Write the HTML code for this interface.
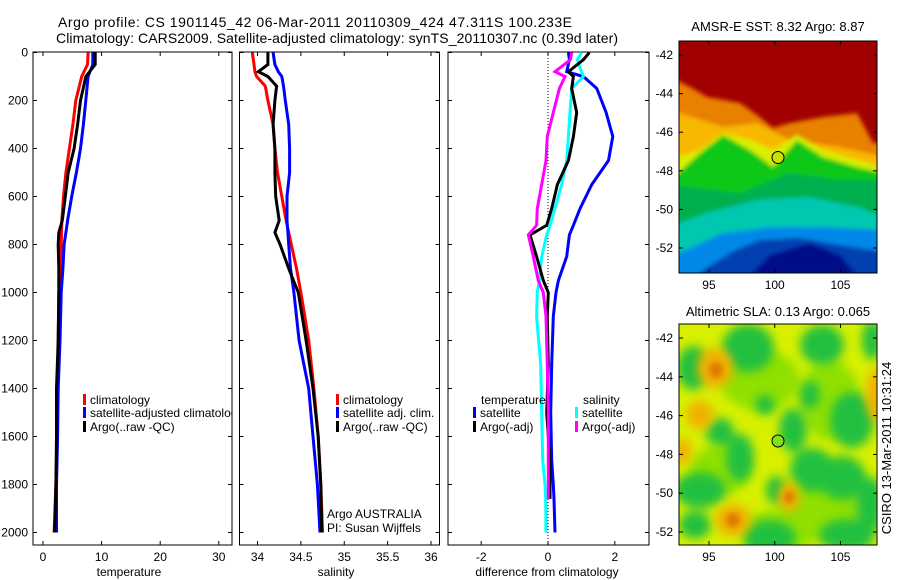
<!DOCTYPE html>
<html><head><meta charset="utf-8"><style>
html,body{margin:0;padding:0;background:#fff;}
svg{display:block;font-family:"Liberation Sans",sans-serif;}
</style></head><body>
<svg id="chart" width="900" height="580" viewBox="0 0 900 580" xmlns="http://www.w3.org/2000/svg">
<defs>
<filter id="blur2"><feGaussianBlur stdDeviation="2"/></filter>
<filter id="blur3"><feGaussianBlur stdDeviation="3"/></filter>
<filter id="blur5"><feGaussianBlur stdDeviation="5"/></filter>
<clipPath id="clipTop"><rect x="679" y="41" width="198" height="232"/></clipPath>
<clipPath id="clipBot"><rect x="679" y="324" width="198" height="221"/></clipPath>
<clipPath id="clipP1"><rect x="33" y="52" width="199" height="493"/></clipPath>
</defs>
<text x="58" y="27" font-size="14" textLength="514">Argo profile: CS 1901145_42 06-Mar-2011 20110309_424 47.311S 100.233E</text>
<text x="56" y="43" font-size="14" textLength="562">Climatology: CARS2009. Satellite-adjusted climatology: synTS_20110307.nc (0.39d later)</text>

<g clip-path="url(#clipTop)">
<rect x="679" y="41" width="198" height="232" fill="#a00000"/>
<g filter="url(#blur2)">
<polygon fill="#e88000" points="670,77 690,87 707,97 740,103 757,115 773,128 790,123 823,117 857,113 873,143 885,143 885,290 670,290"/>
<polygon fill="#f8b800" points="670,110 723,127 757,123 790,140 840,147 885,157 885,290 670,290"/>
<polygon fill="#d8f000" points="670,160 700,150 723,133 750,140 773,150 797,135 823,150 857,160 885,168 885,290 670,290"/>
<polygon fill="#10c818" points="670,180 700,153 723,135 750,150 773,167 797,140 823,157 857,167 885,173 885,290 670,290"/>
<polygon fill="#00b050" points="670,185 740,193 790,173 840,180 885,180 885,290 670,290"/>
<polygon fill="#00c8b0" points="670,227 707,213 757,200 807,197 857,207 885,217 885,290 670,290"/>
<polygon fill="#0088e8" points="670,257 723,233 773,227 823,227 885,230 885,290 670,290"/>
<polygon fill="#0040b0" points="700,272 735,250 760,240 800,238 840,245 885,252 885,290 700,290"/>
<polygon fill="#000888" points="750,275 770,255 810,243 840,255 857,275"/>
</g>
</g>
<rect x="679" y="41" width="198" height="232" fill="none" stroke="#000" stroke-width="1"/>
<circle cx="778" cy="157.5" r="6" fill="#c8e000" stroke="#000" stroke-width="1"/>
<text x="778" y="31" font-size="13" text-anchor="middle">AMSR-E SST: 8.32 Argo: 8.87</text>

<g clip-path="url(#clipBot)">
<rect x="679" y="324" width="198" height="221" fill="#d8f000"/>
<g filter="url(#blur5)" fill="#90e000">
<ellipse cx="760" cy="380" rx="40" ry="30"/>
<ellipse cx="720" cy="470" rx="30" ry="25"/>
<ellipse cx="830" cy="400" rx="30" ry="40"/>
<ellipse cx="820" cy="510" rx="40" ry="30"/>
<ellipse cx="780" cy="530" rx="40" ry="20"/>
</g>
<g filter="url(#blur5)" fill="#20c040">
<ellipse cx="748" cy="348" rx="26" ry="24"/>
<ellipse cx="693" cy="368" rx="16" ry="22"/>
<ellipse cx="822" cy="345" rx="22" ry="20"/>
<ellipse cx="872" cy="340" rx="10" ry="20"/>
<ellipse cx="720" cy="432" rx="14" ry="14"/>
<ellipse cx="740" cy="458" rx="14" ry="24"/>
<ellipse cx="793" cy="430" rx="14" ry="22"/>
<ellipse cx="812" cy="470" rx="22" ry="22"/>
<ellipse cx="852" cy="420" rx="22" ry="28"/>
<ellipse cx="842" cy="478" rx="24" ry="22"/>
<ellipse cx="700" cy="490" rx="26" ry="18"/>
<ellipse cx="695" cy="525" rx="16" ry="14"/>
<ellipse cx="770" cy="538" rx="26" ry="18"/>
<ellipse cx="847" cy="535" rx="28" ry="16"/>
<ellipse cx="765" cy="405" rx="10" ry="10"/>
<ellipse cx="870" cy="505" rx="14" ry="28"/>
<ellipse cx="776" cy="490" rx="10" ry="14"/>
<ellipse cx="810" cy="395" rx="10" ry="14"/>
</g>
<g filter="url(#blur5)" fill="#f0b000">
<ellipse cx="715" cy="368" rx="18" ry="20"/>
<ellipse cx="700" cy="415" rx="14" ry="14"/>
<ellipse cx="733" cy="520" rx="18" ry="16"/>
<ellipse cx="789" cy="497" rx="11" ry="15"/>
<ellipse cx="876" cy="395" rx="10" ry="26"/>
<ellipse cx="683" cy="452" rx="8" ry="14"/>
</g>
<g filter="url(#blur3)" fill="#e07800">
<ellipse cx="716" cy="370" rx="7" ry="8"/>
<ellipse cx="733" cy="520" rx="7" ry="7"/>
<ellipse cx="789" cy="497" rx="5" ry="6"/>
</g>
</g>
<rect x="679" y="324" width="198" height="221" fill="none" stroke="#000" stroke-width="1"/>
<circle cx="778" cy="441" r="6" fill="#80e020" stroke="#000" stroke-width="1"/>
<text x="778" y="316" font-size="13" text-anchor="middle">Altimetric SLA: 0.13 Argo: 0.065</text>
<text x="0" y="0" font-size="13" text-anchor="middle" transform="translate(891,448) rotate(-90)">CSIRO 13-Mar-2011 10:31:24</text>
</svg>
<script>
// ---- data ----
const pressures = [0,50,100,200,300,400,500,600,700,750,800,900,1000,1200,1400,1600,1800,2000];
const tempClim = [7.7,7.6,6.6,5.6,5.1,4.5,3.9,3.5,3.2,3.15,3.1,2.9,2.7,2.6,2.5,2.4,2.2,1.9];
const tempSat  = [8.5,8.5,7.7,7.3,6.9,6.4,5.7,4.9,4.2,3.9,3.6,3.4,3.1,2.9,2.6,2.5,2.3,2.3];
const tempArgo = [8.9,8.9,7.3,6.4,5.9,5.3,4.3,3.8,3.3,2.7,2.6,2.7,2.7,2.6,2.3,2.3,2.2,2.0];

const salPressures = [0,50,80,100,140,200,300,400,500,600,700,750,800,900,1000,1200,1400,1600,1800,2000];
const salClim = [33.94,33.96,33.97,33.99,34.09,34.12,34.18,34.20,34.23,34.28,34.33,34.36,34.39,34.45,34.50,34.59,34.65,34.70,34.73,34.75];
const salSat  = [34.18,34.20,34.24,34.28,34.30,34.32,34.36,34.37,34.37,34.34,34.34,34.35,34.36,34.38,34.42,34.48,34.59,34.64,34.69,34.72];
const salArgo = [34.12,34.12,34.01,34.12,34.22,34.20,34.18,34.20,34.20,34.21,34.25,34.20,34.26,34.36,34.47,34.56,34.64,34.70,34.73,34.74];

const diffPressures = [0,30,80,100,150,250,350,450,550,650,720,760,850,950,1000,1100,1300,1500,1700,1800,1860,2000];
const diffTempSat  = [0.61,0.64,0.56,1.06,1.46,1.74,1.94,1.81,1.31,0.96,0.76,0.64,0.56,0.31,0.24,0.16,0.11,0.08,0.11,0.16,0.18,0.21];
const diffTempArgo = [1.24,1.06,0.61,0.76,0.71,0.86,0.76,0.61,0.28,0.11,-0.04,-0.54,-0.34,-0.14,0.01,-0.02,0.01,-0.04,0.06,0.06,0.06,null];
const diffSalSat   = [1.0,0.88,1.0,1.06,0.71,0.66,0.61,0.56,0.41,0.21,0.06,-0.04,-0.19,-0.26,-0.32,-0.34,-0.22,-0.19,-0.16,-0.09,-0.07,-0.06];
const diffSalArgo  = [0.71,0.67,0.21,0.51,0.34,0.16,-0.02,-0.06,-0.19,-0.32,-0.34,-0.59,-0.44,-0.29,-0.14,-0.06,-0.02,0.01,0.01,0.01,0.01,null];

const pTicks = [0,200,400,600,800,1000,1200,1400,1600,1800,2000];
const tTicks = [0,10,20,30];
const sTicks = [34,34.5,35,35.5,36];
const sTickLabels = ["34","34.5","35","35.5","36"];
const dTicks = [-2,0,2];
const lonTicks = [95,100,105];
const latTicks = [-42,-44,-46,-48,-50,-52];

// ---- scales ----
const yP = p => 52.5 + p*0.24;
const xT = t => 43 + t*5.86;
const xS = s => 257.5 + (s-34)*86.75;
const xD = d => 548 + d*33.4;
const xLon = lon => 679 + (lon-92.72)*13.15;
const yLatTop = lat => 55 + (-42-lat)*19.3;
const yLatBot = lat => 338 + (-42-lat)*19.4;

const NS = "http://www.w3.org/2000/svg";
const svg = document.getElementById('chart');
function mk(tag, attrs, parent){
  const e = document.createElementNS(NS, tag);
  for (const k in attrs) e.setAttribute(k, attrs[k]);
  (parent||svg).appendChild(e);
  return e;
}
function txt(str, x, y, size, anchor, name){
  const e = mk('text', {x:x, y:y, 'font-size':size, 'text-anchor':anchor||'start'});
  e.textContent = str;
  
  
  return e;
}
function line(xs, ps, xf, color, name, clip){
  let pts = [];
  for (let i=0;i<xs.length;i++){ if (xs[i]===null) continue; pts.push(xf(xs[i]).toFixed(1)+','+yP(ps[i]).toFixed(1)); }
  const e = mk('polyline', {points:pts.join(' '), fill:'none', stroke:color, 'stroke-width':3, 'stroke-linejoin':'miter'});
  if (clip) e.setAttribute('clip-path', clip);
  
  
}
function panel(x0, x1, name){
  const r = mk('rect', {x:x0, y:52, width:x1-x0, height:493, fill:'none', stroke:'#000', 'stroke-width':1});
  
  
  for (const p of pTicks){
    const y = yP(p);
    mk('line', {x1:x0, x2:x0+4, y1:y, y2:y, stroke:'#000'});
    mk('line', {x1:x1-4, x2:x1, y1:y, y2:y, stroke:'#000'});
  }
}
function xticks(vals, labels, xf, x0, x1, name){
  vals.forEach((v,i)=>{
    const x = xf(v);
    mk('line', {x1:x, x2:x, y1:52, y2:56, stroke:'#000'});
    mk('line', {x1:x, x2:x, y1:541, y2:545, stroke:'#000'});
    txt(labels[i], x, 561, 12, 'middle', name);
  });
}

// panel 1: temperature
panel(33, 232, 'temperature-panel');
pTicks.forEach(p => txt(String(p), 28, yP(p)+4, 12, 'end', 'pressure-tick-label'));
xticks(tTicks, tTicks.map(String), xT, 33, 232, 'temperature-tick-label');
txt('temperature', 129, 576, 12, 'middle', 'x-axis-title-temperature');
line(tempClim, pressures, xT, '#f00', 'temperature-climatology-line', 'url(#clipP1)');
line(tempSat, pressures, xT, '#00f', 'temperature-satellite-line', 'url(#clipP1)');
line(tempArgo, pressures, xT, '#000', 'temperature-argo-line', 'url(#clipP1)');

// panel 2: salinity
panel(239.5, 439.5, 'salinity-panel');
xticks(sTicks, sTickLabels, xS, 239.5, 439.5, 'salinity-tick-label');
txt('salinity', 336, 576, 12, 'middle', 'x-axis-title-salinity');
line(salClim, salPressures, xS, '#f00', 'salinity-climatology-line');
line(salSat, salPressures, xS, '#00f', 'salinity-satellite-line');
line(salArgo, salPressures, xS, '#000', 'salinity-argo-line');

// panel 3: difference
panel(448, 649, 'difference-panel');
xticks(dTicks, dTicks.map(String), xD, 448, 649, 'difference-tick-label');
txt('difference from climatology', 547, 576, 12, 'middle', 'x-axis-title-difference');
const zl = mk('line', {x1:xD(0), x2:xD(0), y1:52, y2:545, stroke:'#000', 'stroke-dasharray':'1,2'});


line(diffTempSat, diffPressures, xD, '#0000ff', 'diff-temperature-satellite-line');
line(diffSalSat, diffPressures, xD, '#00ffff', 'diff-salinity-satellite-line');
line(diffTempArgo, diffPressures, xD, '#000', 'diff-temperature-argo-line');
line(diffSalArgo, diffPressures, xD, '#ff00ff', 'diff-salinity-argo-line');

// legends
function legendEntry(mx, y, color, label, name, clipW){
  const g = mk('g', {});
  
  
  mk('rect', {x:mx, y:y-10, width:3, height:11, fill:color}, g);
  const t = mk('text', {x:mx+7, y:y, 'font-size':12}, g);
  t.textContent = label;
  if (clipW) t.setAttribute('clip-path', 'url(#clipP1)');
}
legendEntry(83, 404, '#f00', 'climatology', 'legend-entry-climatology');
legendEntry(83, 417, '#00f', 'satellite-adjusted climatology', 'legend-entry-satellite-adjusted', true);
legendEntry(83, 431, '#000', 'Argo(..raw -QC)', 'legend-entry-argo');
legendEntry(336, 404, '#f00', 'climatology', 'legend-entry-sal-climatology');
legendEntry(336, 417, '#00f', 'satellite adj. clim.', 'legend-entry-sal-satellite');
legendEntry(336, 431, '#000', 'Argo(..raw -QC)', 'legend-entry-sal-argo');
txt('temperature', 481, 404, 12, 'start', 'legend-title-temperature');
txt('salinity', 583, 404, 12, 'start', 'legend-title-salinity');
legendEntry(473, 417, '#00f', 'satellite', 'legend-entry-diff-temp-satellite');
legendEntry(473, 431, '#000', 'Argo(-adj)', 'legend-entry-diff-temp-argo');
legendEntry(575, 417, '#0ff', 'satellite', 'legend-entry-diff-sal-satellite');
legendEntry(575, 431, '#f0f', 'Argo(-adj)', 'legend-entry-diff-sal-argo');
txt('Argo AUSTRALIA', 327, 518, 12, 'start', 'argo-australia-label');
txt('PI: Susan Wijffels', 327, 532, 12, 'start', 'pi-label');

// map axes
function mapAxes(top, bottom, yLat, name){
  lonTicks.forEach(lon=>{
    const x = xLon(lon);
    mk('line', {x1:x, x2:x, y1:top, y2:top+4, stroke:'#000'});
    mk('line', {x1:x, x2:x, y1:bottom-4, y2:bottom, stroke:'#000'});
    txt(String(lon), x, bottom+16, 12, 'middle', name+'-lon-tick-label');
  });
  latTicks.forEach(lat=>{
    const y = yLat(lat);
    mk('line', {x1:679, x2:683, y1:y, y2:y, stroke:'#000'});
    mk('line', {x1:873, x2:877, y1:y, y2:y, stroke:'#000'});
    txt(String(lat), 673, y+4, 12, 'end', name+'-lat-tick-label');
  });
}
mapAxes(41, 273, yLatTop, 'sst-map');
mapAxes(324, 545, yLatBot, 'sla-map');
</script>
</body></html>
